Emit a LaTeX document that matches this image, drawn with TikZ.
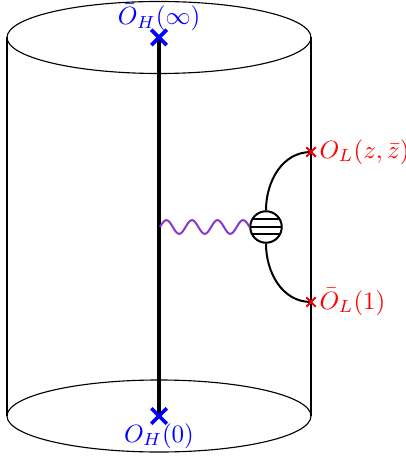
\documentclass[tikz,border=0pt]{standalone}
\usetikzlibrary{shapes.misc}
\definecolor{wavepurple}{RGB}{135,55,205}
\tikzset{
  cyl/.style={line width=0.45pt},
  heavy/.style={line width=1.6pt},
  bluex/.style={cross out,draw=blue,line width=1.3pt,minimum size=4.8pt,inner sep=0pt},
  redx/.style={cross out,draw=red,line width=0.7pt,minimum size=3.0pt,inner sep=0pt},
  bluelab/.style={text=blue,inner sep=0pt},
  redlab/.style={text=red,inner sep=0pt},
  propag/.style={line width=0.8pt},
  gluon/.style={wavepurple,line width=0.8pt},
  blobstyle/.style={circle,draw,line width=0.8pt,minimum size=12.6pt,inner sep=0pt,
    path picture={
      \draw[line width=0.45pt] ([yshift=3.2pt]path picture bounding box.west) -- ([yshift=3.2pt]path picture bounding box.east);
      \draw[line width=0.45pt] (path picture bounding box.west) -- (path picture bounding box.east);
      \draw[line width=0.45pt] ([yshift=-2.8pt]path picture bounding box.west) -- ([yshift=-2.8pt]path picture bounding box.east);
    }}
}
\begin{document}
\begin{tikzpicture}[x=0.4pt,y=-0.4pt]
\useasboundingbox (0,0) rectangle (405,457);
% cylinder
\draw[cyl] (159,37.5) ellipse [x radius=152, y radius=36];
\draw[cyl] (159,416) ellipse [x radius=152, y radius=36];
\draw[cyl] (7,37.5) -- (7,416);
\draw[cyl] (311,37.5) -- (311,416);
% operator insertions
\node[bluex] (top) at (159,37.5) {};
\node[bluex] (bot) at (159,416) {};
\draw[heavy] (top.center) -- (bot.center);
\node[bluex] at (159,37.5) {};
\node[bluex] at (159,416) {};
\node[bluelab,anchor=base] (toplab) at (159,25) {$\bar{O}_H(\infty)$};
\node[bluelab,anchor=base] (botlab) at (159,442) {$O_H(0)$};
% wavy line and blob
\coordinate (w0) at (160,227);
\node[blobstyle] (blob) at (266,227) {};
\draw[gluon,shift={(w0)}] plot[domain=0:89.5,samples=120,smooth] (\x,{-6.8*sin(\x/89.5*3.5*360)});
\node[redx] (oL) at (311,152) {};
\node[redx] (obL) at (311,302) {};
\draw[propag] (blob.north) to[out=90,in=180] (oL.center);
\draw[propag] (blob.south) to[out=-90,in=180] (obL.center);
\node[redx] at (311,152) {};
\node[redx] at (311,302) {};
\node[redlab,anchor=west] (oLlab) at (319,152) {$O_L(z,\bar{z})$};
\node[redlab,anchor=west] (obLlab) at (319,302) {$\bar{O}_L(1)$};
\end{tikzpicture}
\end{document}
